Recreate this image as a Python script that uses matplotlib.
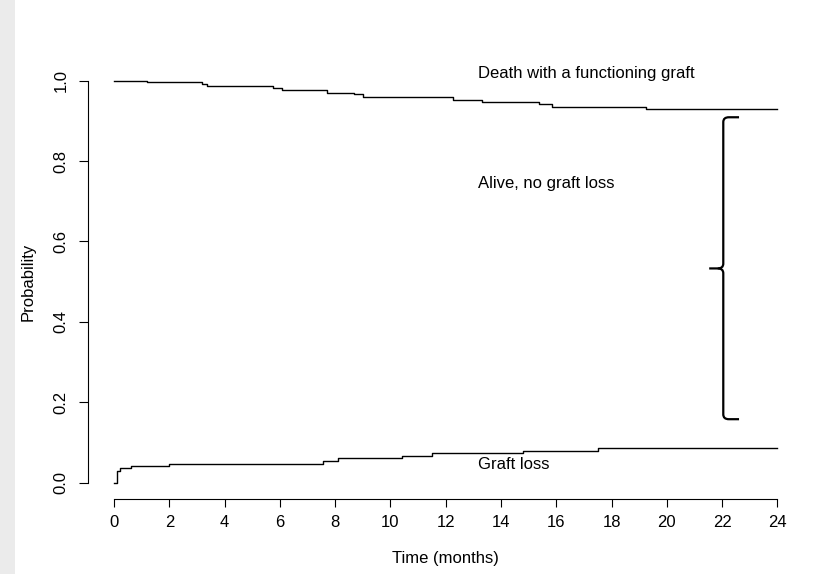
import matplotlib
matplotlib.use('Agg')
import matplotlib.pyplot as plt
from matplotlib.path import Path
from matplotlib.patches import PathPatch, Rectangle

plt.rcParams['font.family'] = ['Liberation Sans', 'DejaVu Sans']

# event-free (death with functioning graft) curve
alive_time = [0, 1.18, 3.2, 3.37, 5.76, 6.06, 7.69, 8.69, 8.99, 12.27, 13.3, 15.38, 15.83, 19.23, 24]
alive_prob = [1.0, 0.996, 0.9925, 0.988, 0.982, 0.976, 0.970, 0.966, 0.959, 0.953, 0.948, 0.942, 0.935, 0.929, 0.929]

# cumulative graft loss curve
loss_time = [0, 0.1, 0.2, 0.6, 1.99, 7.57, 8.11, 10.4, 11.51, 14.8, 17.5, 24]
loss_prob = [0, 0.030, 0.036, 0.041, 0.046, 0.055, 0.061, 0.067, 0.073, 0.079, 0.0856, 0.0856]

x_ticks = list(range(0, 25, 2))
y_ticks = [0.0, 0.2, 0.4, 0.6, 0.8, 1.0]
y_tick_labels = ['0.0', '0.2', '0.4', '0.6', '0.8', '1.0']

labels = ['Death with a functioning graft', 'Alive, no graft loss', 'Graft loss']
label_x = [13.15, 13.15, 13.15]
label_y = [1.019, 0.745, 0.0465]

# brace: x of spine, end of hooks, tip, and y of top / middle / bottom
brace_x, brace_hook, brace_tip = 22.04, 22.61, 21.53
brace_top, brace_mid, brace_bot = 0.909, 0.533, 0.158

fig = plt.figure(figsize=(8.39, 5.74), dpi=100)
fig.patches.append(Rectangle((0, 0), 15 / 839, 1, transform=fig.transFigure,
                             facecolor='#ebebeb', edgecolor='none', zorder=0))
ax = fig.add_axes([87.5 / 839, 1 - 498.8 / 574, (804 - 87.5) / 839, (498.8 - 64.6) / 574])

ax.step(alive_time, alive_prob, where='post', color='black', lw=1.0)
ax.step(loss_time, loss_prob, where='post', color='black', lw=1.0)

for txt, x, y in zip(labels, label_x, label_y):
    ax.text(x, y, txt, ha='left', va='center', fontsize=12)

# curly brace
dx, dy = 0.2, 0.012
top_half = [(brace_hook, brace_top), (brace_x + dx, brace_top), (brace_x, brace_top),
            (brace_x, brace_top - dy), (brace_x, brace_mid + dy), (brace_x, brace_mid),
            (brace_x - dx, brace_mid), (brace_tip, brace_mid)]
top_codes = [Path.MOVETO, Path.LINETO, Path.CURVE3, Path.CURVE3, Path.LINETO,
             Path.CURVE3, Path.CURVE3, Path.LINETO]
bot_half = [(brace_hook, brace_bot), (brace_x + dx, brace_bot), (brace_x, brace_bot),
            (brace_x, brace_bot + dy), (brace_x, brace_mid - dy), (brace_x, brace_mid),
            (brace_x - dx, brace_mid)]
bot_codes = [Path.MOVETO, Path.LINETO, Path.CURVE3, Path.CURVE3, Path.LINETO,
             Path.CURVE3, Path.CURVE3]
for verts, codes in [(top_half, top_codes), (bot_half, bot_codes)]:
    ax.add_patch(PathPatch(Path(verts, codes), facecolor='none', edgecolor='black',
                           lw=1.6, capstyle='butt'))

ax.set_xlim(-0.96, 24.96)
ax.set_ylim(-0.04, 1.04)
ax.set_xticks(x_ticks)
ax.set_xticklabels([str(t) for t in x_ticks], fontsize=12)
ax.set_yticks(y_ticks)
ax.set_yticklabels(y_tick_labels, fontsize=12, rotation=90, va='center')
ax.tick_params(axis='x', length=6, width=0.8, pad=6)
ax.tick_params(axis='y', length=6.5, width=0.8, pad=7)

for s in ['top', 'right']:
    ax.spines[s].set_visible(False)
ax.spines['left'].set_bounds(0, 1)
ax.spines['bottom'].set_bounds(0, 24)
ax.spines['left'].set_linewidth(0.8)
ax.spines['bottom'].set_linewidth(0.8)

ax.set_xlabel('Time (months)', fontsize=12)
ax.set_ylabel('Probability', fontsize=12)
ax.xaxis.set_label_coords(0.5, -0.121)
ax.yaxis.set_label_coords(-0.072, 0.5)

plt.savefig('out.png', dpi=100)
